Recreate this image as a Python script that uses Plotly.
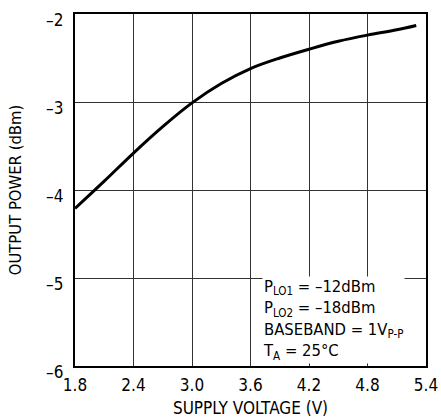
import plotly.graph_objects as go

voltage = [1.8, 2.1, 2.4, 2.7, 3.0, 3.3, 3.6, 3.9, 4.2, 4.5, 4.8, 5.1, 5.3]
power = [-4.21, -3.90, -3.58, -3.28, -3.01, -2.79, -2.62, -2.50, -2.40, -2.31, -2.24, -2.18, -2.13]

x_ticks = [1.8, 2.4, 3.0, 3.6, 4.2, 4.8, 5.4]
x_labels = ["1.8", "2.4", "3.0", "3.6", "4.2", "4.8", "5.4"]
y_ticks = [-6, -5, -4, -3, -2]
y_labels = ["–6", "–5", "–4", "–3", "–2"]

FONT = "DejaVu Sans Condensed, Liberation Sans Narrow, Arial Narrow, sans-serif"

fig = go.Figure()
fig.add_trace(go.Scatter(x=voltage, y=power, mode="lines",
                         line=dict(color="black", width=3, shape="spline"),
                         showlegend=False))

annotations = []
for v, t in zip(y_ticks, y_labels):
    annotations.append(dict(x=0, xref="paper", y=v, yref="y", text=t,
                            showarrow=False, xanchor="right", xshift=-10, yshift=-6,
                            font=dict(family=FONT, size=17, color="black")))

annotations.append(dict(
    x=3.72, y=-4.975, xref="x", yref="y", xanchor="left", yanchor="top", align="left",
    showarrow=False, bgcolor="white", borderpad=0,
    text=("P<sub>LO1</sub> = –12dBm<br>P<sub>LO2</sub> = –18dBm<br>"
          "BASEBAND = 1V<sub>P-P</sub><br>T<sub>A</sub> = 25°C"),
    font=dict(family=FONT, size=16.5, color="black")))

fig.update_layout(
    width=441, height=419,
    margin=dict(l=75, r=15, t=14, b=53),
    plot_bgcolor="white", paper_bgcolor="white",
    font=dict(family=FONT, size=17, color="black"),
    annotations=annotations,
    xaxis=dict(range=[1.8, 5.4], tickvals=x_ticks, ticktext=x_labels,
               showgrid=True, gridcolor="#333", gridwidth=1,
               showline=True, linecolor="black", linewidth=2, mirror=True,
               ticks="", zeroline=False, automargin=False,
               ticklabelstandoff=3,
               tickfont=dict(family=FONT, size=17),
               title=dict(text="SUPPLY VOLTAGE (V)", standoff=8,
                          font=dict(family=FONT, size=17))),
    yaxis=dict(range=[-6, -2], tickvals=y_ticks, showticklabels=False,
               showgrid=True, gridcolor="#333", gridwidth=1,
               showline=True, linecolor="black", linewidth=2, mirror=True,
               ticks="", zeroline=False, automargin=False,
               title=dict(text="OUTPUT POWER (dBm)", standoff=47,
                          font=dict(family=FONT, size=16.5))),
)

fig.write_html("out.html")
